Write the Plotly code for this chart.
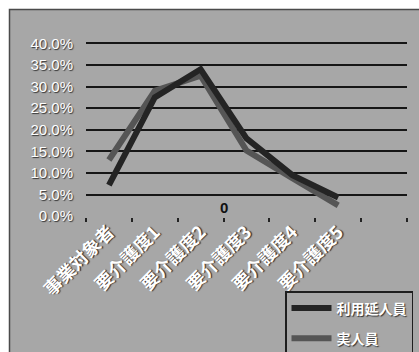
import plotly.graph_objects as go

# Care level categories (last slot is an empty category)
categories = ["事業対象者", "要介護度1", "要介護度2", "要介護度3", "要介護度4", "要介護度5", " "]
series_names = ["利用延人員", "実人員"]
total_users = [0.072, 0.275, 0.340, 0.180, 0.095, 0.043]   # 利用延人員
actual_users = [0.130, 0.290, 0.325, 0.152, 0.088, 0.025]  # 実人員
y_ticks = [0.0, 0.05, 0.10, 0.15, 0.20, 0.25, 0.30, 0.35, 0.40]

W, H = 419, 352
L, R, T, B = 86, 12, 39, 135
PW, PH = W - L - R, H - T - B

def px_x(p):
    return (p - L) / PW

def px_y(p):
    return (H - B - p) / PH

BG = "#a7a7a7"
SHADOW = "1px 1px 1px #333333"
num_font = dict(family="Liberation Sans", color="white", size=15, shadow=SHADOW)
cat_font = dict(family="Noto Sans CJK JP", color="white", size=18, weight=700,
                shadow=SHADOW)

fig = go.Figure()
fig.add_trace(go.Scatter(
    x=categories[:len(actual_users)], y=actual_users, mode="lines",
    name=series_names[1], legendrank=2, legendgroup="b",
    line=dict(color="#555555", width=6),
))
fig.add_trace(go.Scatter(
    x=categories[:len(total_users)], y=total_users, mode="lines",
    name=series_names[0], legendrank=1, legendgroup="a",
    line=dict(color="#242424", width=6),
))

fig.update_layout(
    width=W, height=H,
    margin=dict(l=L, r=R, t=T, b=B, autoexpand=False),
    paper_bgcolor=BG, plot_bgcolor="rgba(0,0,0,0)",
    showlegend=True,
    legend=dict(
        x=px_x(285), y=px_y(291), xanchor="left", yanchor="top",
        bgcolor=BG, bordercolor="#1e1e1e", borderwidth=1.5,
        font=dict(family="Noto Sans CJK JP", color="white", size=14, weight=700,
                  shadow=SHADOW),
        tracegroupgap=9, itemwidth=40,
    ),
    xaxis=dict(
        type="category", categoryorder="array", categoryarray=categories,
        range=[-0.5, len(categories) - 0.5], automargin=False,
        tickson="boundaries", ticks="outside", ticklen=4,
        tickcolor="#222222", tickwidth=1.5,
        tickangle=-45, tickfont=cat_font,
        showgrid=False, showline=False, zeroline=False,
    ),
    yaxis=dict(
        range=[-0.002, 0.41], tickvals=y_ticks, tickformat=".1%",
        tickfont=num_font, ticklabelstandoff=12, automargin=False,
        showgrid=True, gridcolor="#161616", gridwidth=2.2,
        zeroline=False, showline=False, ticks="",
    ),
    shapes=[
        dict(type="rect", xref="paper", yref="paper", layer="above",
             x0=px_x(0), x1=px_x(9), y0=px_y(H), y1=px_y(0),
             fillcolor="white", line=dict(width=0)),
        dict(type="rect", xref="paper", yref="paper", layer="above",
             x0=px_x(0), x1=px_x(W), y0=px_y(9), y1=px_y(0),
             fillcolor="white", line=dict(width=0)),
        dict(type="rect", xref="paper", yref="paper", layer="above",
             x0=px_x(9.5), x1=px_x(W + 5), y0=px_y(H + 5), y1=px_y(9.5),
             fillcolor="rgba(0,0,0,0)", line=dict(color="#4a4a4a", width=1.5)),
    ],
    annotations=[
        dict(text="<b>0</b>", x=px_x(224), y=px_y(218), xref="paper", yref="paper",
             showarrow=False, font=dict(family="Liberation Sans", size=15, color="#111111")),
    ],
)

fig.write_html("out.html")
